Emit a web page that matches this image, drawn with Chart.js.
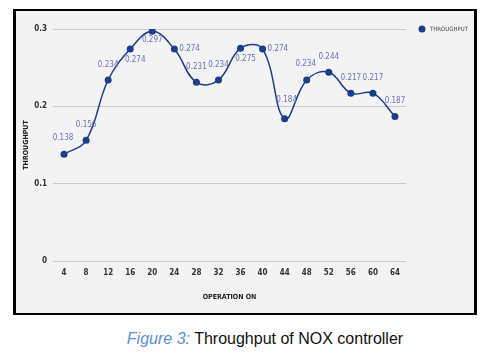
<!DOCTYPE html>
<html><head><meta charset="utf-8">
<script src="https://cdn.jsdelivr.net/npm/chart.js@4/dist/chart.umd.min.js"></script>
<style>
html,body{margin:0;padding:0;background:#fff;width:500px;height:355px;overflow:hidden}
#frame{position:absolute;left:13px;top:9px;width:458px;height:302px;border:solid #000;border-width:2px 3px 2px 3px;background:#f3f3f3}
#frame canvas{display:block}
#cap{position:absolute;left:0;width:530px;top:330px;text-align:center;font-family:'Liberation Sans',Arial,sans-serif;font-size:16px;color:#111;white-space:nowrap}
#cap i{color:#5b8fd3}
</style></head><body>
<div id="frame"><canvas id="c" width="458" height="302"></canvas></div>
<div id="cap"><i>Figure 3:</i> Throughput of NOX controller</div>
<script>
const categories = ["4","8","12","16","20","24","28","32","36","40","44","48","52","56","60","64"];
const throughput = [0.138,0.156,0.234,0.274,0.297,0.274,0.231,0.234,0.275,0.274,0.184,0.234,0.244,0.217,0.217,0.187];
const yTicks = [0,0.1,0.2,0.3];
const seriesName = "THROUGHPUT";
const xTitle = "OPERATION ON";
const yTitle = "THROUGHPUT";
// label placement relative to point (style only)
const labelPlace = ["aboveL","above","above","belowR","below","right","above","above","belowR","right","aboveHi","aboveL","above","above","above","above"];

const FONT = "'Liberation Sans Narrow','DejaVu Sans Condensed',sans-serif";

const labelPlugin = {
  id:'vlabels',
  afterDatasetsDraw(chart){
    const ctx = chart.ctx;
    const meta = chart.getDatasetMeta(0);
    ctx.save();
    ctx.font = "8px " + FONT;
    ctx.fillStyle = "#6b70c2";
    ctx.textBaseline = "middle";
    meta.data.forEach((pt,i)=>{
      const t = String(throughput[i]);
      let x = pt.x, y = pt.y, al = "center";
      switch(labelPlace[i]){
        case "above": y -= 15; break;
        case "aboveHi": y -= 19; x += 2; break;
        case "aboveL": y -= 16; x -= 1; break;
        case "below": y += 9; break;
        case "belowR": y += 11; x += 5; break;
        case "right": x += 5; al = "left"; break;
      }
      ctx.textAlign = al;
      ctx.fillText(t, x, y);
    });
    // legend
    const ca = chart.chartArea;
    ctx.fillStyle = "#1c3d8a";
    ctx.beginPath(); ctx.arc(ca.right+16, ca.top, 3.5, 0, Math.PI*2); ctx.fill();
    ctx.fillStyle = "#444";
    ctx.font = "6px " + FONT;
    ctx.textAlign = "left";
    ctx.fillText(seriesName, ca.right+24, ca.top+0.5);
    ctx.restore();
  }
};

new Chart(document.getElementById('c'),{
  type:'line',
  data:{labels:categories,datasets:[{
    label:seriesName,data:throughput,
    borderColor:'#1f3c84',borderWidth:1.5,tension:0.4,
    pointRadius:3.5,pointBackgroundColor:'#1c3d8a',pointBorderColor:'#1c3d8a',pointBorderWidth:0,
    fill:false
  }]},
  options:{
    responsive:false,animation:false,devicePixelRatio:1,
    layout:{padding:{left:0,top:18,right:68,bottom:10}},
    plugins:{legend:{display:false},tooltip:{enabled:false}},
    scales:{
      x:{
        offset:true,
        grid:{display:false,drawTicks:false},
        border:{display:false},
        ticks:{font:{family:FONT,size:8,weight:'bold'},color:'#333',padding:7,maxRotation:0},
        title:{display:true,text:xTitle,font:{family:FONT,size:7,weight:'bold'},color:'#222',padding:{top:2,bottom:2}},
        afterFit(s){s.height=42;}
      },
      y:{
        min:0,max:0.3,
        afterBuildTicks(s){s.ticks=yTicks.map(v=>({value:v}));},
        grid:{color:'#c9c9c9',drawTicks:false,lineWidth:1},
        border:{display:false},
        ticks:{font:{family:FONT,size:8,weight:'bold'},color:'#333',padding:6,callback:v=>String(v)},
        title:{display:true,text:yTitle,font:{family:FONT,size:7,weight:'bold'},color:'#222',padding:{top:6,bottom:0}},
        afterFit(s){s.width=37;}
      }
    }
  },
  plugins:[labelPlugin]
});
</script>
</body></html>
